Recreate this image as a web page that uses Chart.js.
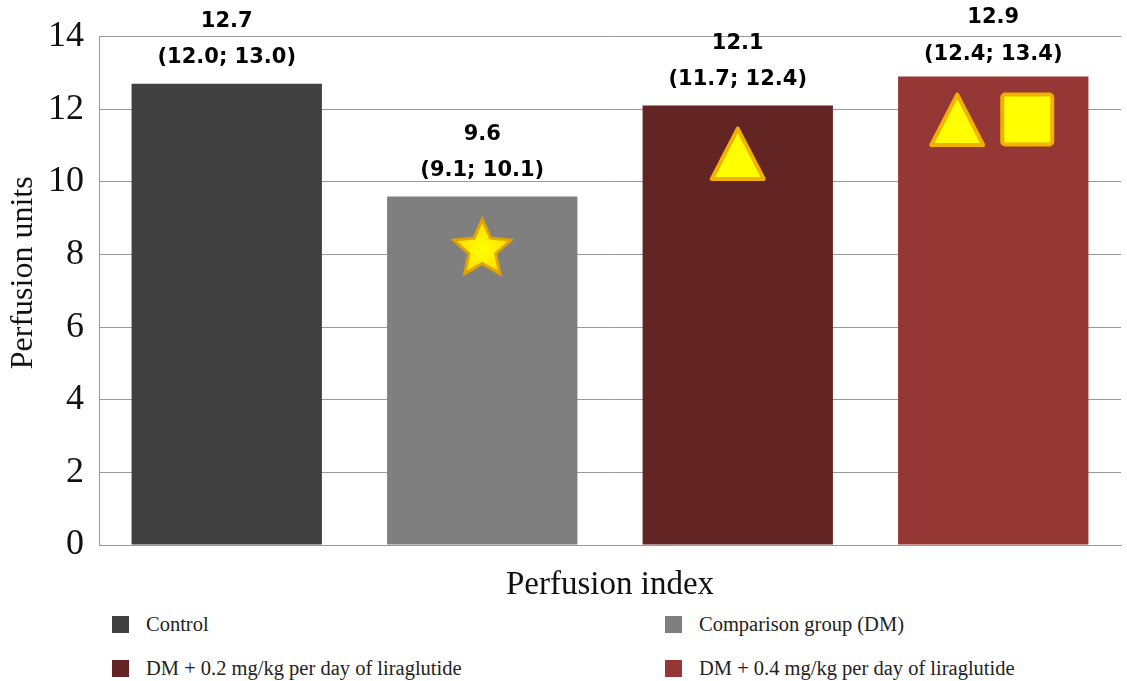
<!DOCTYPE html>
<html>
<head>
<meta charset="utf-8">
<script src="https://cdn.jsdelivr.net/npm/chart.js@4.4.1/dist/chart.umd.min.js"></script>
<style>
  body { margin: 0; background: #fff; width: 1127px; height: 681px; overflow: hidden; position: relative; font-family: 'Liberation Serif', serif; }
  #wrap { position: absolute; left: 0; top: 0; width: 1127px; height: 605px; }
  .item { position: absolute; display: flex; align-items: center; height: 17px; line-height: 17px; font-size: 20.5px; color: #222; white-space: nowrap; }
  .box { width: 17px; height: 17px; margin-right: 17px; }
</style>
</head>
<body>
<div id="wrap"><canvas id="chart"></canvas></div>
<div id="legend"></div>
<script>
// Data
const groups = ['Control', 'Comparison group (DM)', 'DM + 0.2 mg/kg per day of liraglutide', 'DM + 0.4 mg/kg per day of liraglutide'];
const medians = [12.7, 9.6, 12.1, 12.9];
const q1 = [12.0, 9.1, 11.7, 12.4];
const q3 = [13.0, 10.1, 12.4, 13.4];
const barColors = ['#404040', '#7f7f7f', '#632523', '#953735'];
const marks = [[], ['star'], ['triangle'], ['triangle', 'square']];
const yMin = 0, yMax = 14, yStep = 2;
const yTitle = 'Perfusion units';
const xTitle = 'Perfusion index';

// Legend (two columns)
const legend = document.getElementById('legend');
const colX = [112, 665];
const rowY = [616, 660];
groups.forEach((g, i) => {
    const item = document.createElement('div');
    item.className = 'item';
    item.style.left = colX[i % 2] + 'px';
    item.style.top = rowY[Math.floor(i / 2)] + 'px';
    item.innerHTML = `<span class="box" style="background:${barColors[i]}"></span><span>${g}</span>`;
    legend.appendChild(item);
});

const gridColor = '#9a9a9a';

function drawStar(ctx, cx, top, R) {
    const cy = top + R;
    ctx.beginPath();
    for (let k = 0; k < 10; k++) {
        const r = k % 2 === 0 ? R : R * 0.47;
        const a = -Math.PI / 2 + k * Math.PI / 5;
        const px = cx + r * Math.cos(a), py = cy + r * Math.sin(a);
        k === 0 ? ctx.moveTo(px, py) : ctx.lineTo(px, py);
    }
    ctx.closePath();
    const grad = ctx.createRadialGradient(cx, cy, 2, cx, cy, R);
    grad.addColorStop(0, '#ffff00');
    grad.addColorStop(1, '#ffd800');
    ctx.fillStyle = grad;
    ctx.fill();
    ctx.lineWidth = 3;
    ctx.strokeStyle = '#e0a400';
    ctx.stroke();
}

function drawTriangle(ctx, cx, top, s) {
    ctx.beginPath();
    ctx.moveTo(cx, top);
    ctx.lineTo(cx + s / 2, top + s * 0.97);
    ctx.lineTo(cx - s / 2, top + s * 0.97);
    ctx.closePath();
    ctx.fillStyle = '#ffff00';
    ctx.fill();
    ctx.lineWidth = 4;
    ctx.lineJoin = 'round';
    ctx.strokeStyle = '#f2b000';
    ctx.stroke();
}

function drawSquare(ctx, cx, top, s) {
    ctx.beginPath();
    ctx.roundRect(cx - s / 2, top, s, s, 3);
    ctx.fillStyle = '#ffff00';
    ctx.fill();
    ctx.lineWidth = 4;
    ctx.strokeStyle = '#f2b000';
    ctx.stroke();
}

// Labels and significance marks on the bars, plus the y title
const barAnnotations = {
    id: 'barAnnotations',
    afterDatasetsDraw(chart) {
        const ctx = chart.ctx;
        const meta = chart.getDatasetMeta(0);
        ctx.save();
        meta.data.forEach((bar, i) => {
            // text above
            ctx.fillStyle = '#000';
            ctx.font = "bold 21px 'DejaVu Sans', sans-serif";
            ctx.textAlign = 'center';
            ctx.textBaseline = 'middle';
            let line2 = bar.y - 26;
            let line1 = line2 - 36;
            if (line1 < 18) { line1 = 18; line2 = 55; }
            ctx.fillText(medians[i].toFixed(1), bar.x, line1);
            ctx.fillText(`(${q1[i].toFixed(1)}; ${q3[i].toFixed(1)})`, bar.x, line2);

            // symbols inside
            const list = marks[i];
            list.forEach((m, j) => {
                const dx = list.length > 1 ? (j === 0 ? -36 : 34) : 0;
                const cx = bar.x + dx;
                if (m === 'star') drawStar(ctx, cx, bar.y + 23, 30);
                if (m === 'triangle') drawTriangle(ctx, cx, bar.y + (list.length > 1 ? 18 : 23), 52);
                if (m === 'square') drawSquare(ctx, cx, bar.y + 18, 50);
            });
        });

        // y axis title (sits a little above the centre of the plot)
        const area = chart.chartArea;
        ctx.translate(24, (area.top + area.bottom) / 2 - 18);
        ctx.rotate(-Math.PI / 2);
        ctx.fillStyle = '#111';
        ctx.font = "32px 'Liberation Serif', serif";
        ctx.textAlign = 'center';
        ctx.textBaseline = 'middle';
        ctx.fillText(yTitle, 0, 0);
        ctx.restore();
    }
};

new Chart(document.getElementById('chart'), {
    type: 'bar',
    data: {
        labels: groups,
        datasets: [{
            data: medians,
            backgroundColor: barColors,
            borderWidth: 0,
            barPercentage: 0.745,
            categoryPercentage: 1
        }]
    },
    options: {
        responsive: true,
        maintainAspectRatio: false,
        animation: false,
        layout: { padding: { top: 31, right: 6, left: 0, bottom: 0 } },
        plugins: {
            legend: { display: false },
            tooltip: { enabled: false }
        },
        scales: {
            x: {
                grid: { display: false },
                border: { display: true, color: gridColor, width: 1 },
                ticks: { display: false },
                title: {
                    display: true,
                    text: xTitle,
                    color: '#111',
                    font: { family: "'Liberation Serif', serif", size: 33 },
                    padding: { top: 0, bottom: 0 }
                },
                afterFit(scale) { scale.height = 60; }
            },
            y: {
                min: yMin,
                max: yMax,
                ticks: {
                    stepSize: yStep,
                    color: '#111',
                    padding: 15,
                    font: { family: "'Liberation Serif', serif", size: 36 }
                },
                grid: { color: gridColor, lineWidth: 1, drawTicks: false },
                border: { display: true, color: gridColor, width: 1 },
                title: { display: false },
                afterFit(scale) { scale.width = 99; }
            }
        }
    },
    plugins: [barAnnotations]
});
</script>
</body>
</html>
